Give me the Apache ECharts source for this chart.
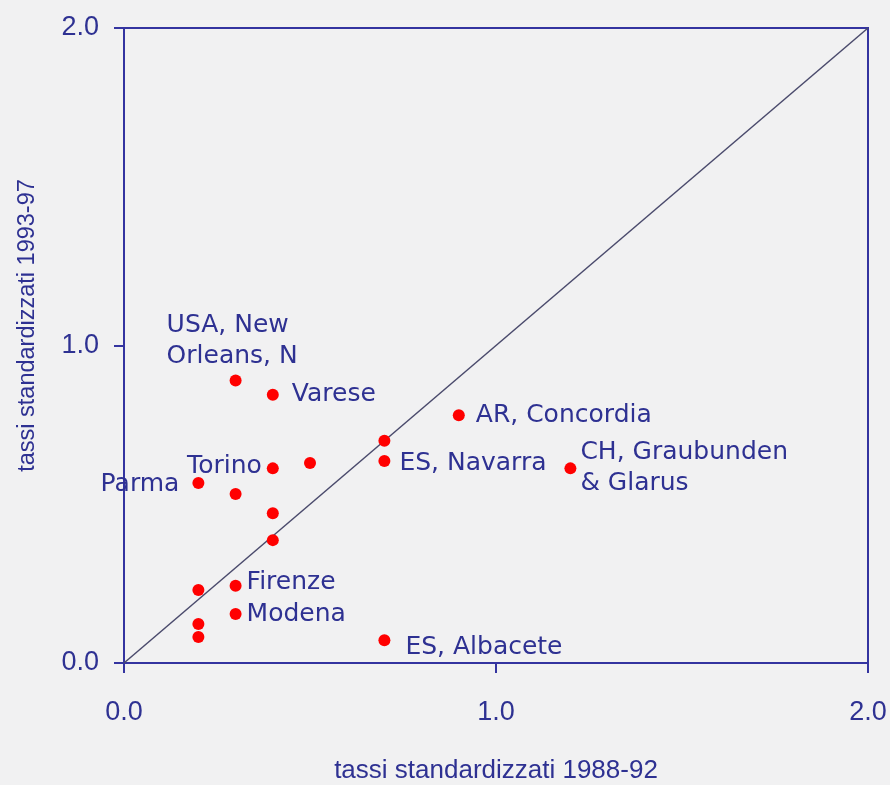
<!DOCTYPE html>
<html>
<head>
<meta charset="utf-8" />
<title></title>
<script type="text/javascript" src="https://cdn.jsdelivr.net/npm/echarts@6/dist/echarts.min.js"></script>
<style>
	html, body { margin: 0; padding: 0; width: 100%; height: 100%; background: #f1f1f2; }
</style>
</head>
<body>
<div id="container" style="width: 890px;height: 785px"></div>
<script>
	// tassi standardizzati: 1988-92 (x) vs 1993-97 (y)
	var names = ['USA, New\nOrleans, N', 'Varese', 'AR, Concordia', '', 'ES, Navarra', '', 'Torino',
		'CH, Graubunden\n& Glarus', 'Parma', '', '', '', '', 'Firenze', 'Modena', '', '', 'ES, Albacete'];
	var x8892 = [0.3, 0.4, 0.9, 0.7, 0.7, 0.5, 0.4, 1.2, 0.2, 0.3, 0.4, 0.4, 0.2, 0.3, 0.3, 0.2, 0.2, 0.7];
	var y9397 = [0.89, 0.845, 0.78, 0.70, 0.636, 0.63, 0.613, 0.613, 0.567, 0.532, 0.472, 0.387, 0.23, 0.243, 0.154, 0.123, 0.082, 0.072];
	var diagonal = [[0, 0], [2, 2]];

	var blue = '#2e3192';
	var axisFont = "'Liberation Sans', Arial, sans-serif";

	// label placement per name
	var labelPos = {
		'USA, New\nOrleans, N': { position: 'top', align: 'left', offset: [-69, 0], distance: 2 },
		'Varese': { position: 'right', distance: 13 },
		'AR, Concordia': { position: 'right', distance: 11 },
		'ES, Navarra': { position: 'right', distance: 9, offset: [0, 2] },
		'Torino': { position: 'left', distance: 5, offset: [0, -2] },
		'CH, Graubunden\n& Glarus': { position: 'right', distance: 4 },
		'Parma': { position: 'left', distance: 13, offset: [0, 2] },
		'Firenze': { position: 'right', distance: 5, offset: [0, -3] },
		'Modena': { position: 'right', distance: 5 },
		'ES, Albacete': { position: 'right', distance: 15, offset: [0, 7] }
	};

	var points = x8892.map(function(x, i) {
		var item = { value: [x, y9397[i]], name: names[i] };
		if (names[i]) {
			var p = labelPos[names[i]];
			item.label = {
				show: true,
				formatter: '{b}',
				position: p.position,
				distance: p.distance,
				offset: p.offset || [0, 0],
				align: p.align
			};
		}
		return item;
	});

	var myChart = echarts.init(document.getElementById('container'));
	var option = {
		backgroundColor: '#f1f1f2',
		animation: false,
		grid: {
			left: 124, right: 22, top: 28, bottom: 122,
			outerBoundsMode: 'none',
			containLabel: false,
			show: true, borderColor: '#3434a0', borderWidth: 2, backgroundColor: 'transparent'
		},
		xAxis: {
			type: 'value', min: 0, max: 2, interval: 1,
			name: 'tassi standardizzati 1988-92',
			nameLocation: 'middle', nameGap: 95,
			nameTextStyle: { color: blue, fontFamily: axisFont, fontSize: 26 },
			axisLine: { onZero: false, lineStyle: { color: '#3434a0', width: 2 } },
			axisTick: { show: true, inside: false, length: 10, lineStyle: { color: '#3434a0', width: 2 } },
			axisLabel: {
				color: blue, fontFamily: axisFont, fontSize: 27, margin: 36,
				formatter: function(v) { return v.toFixed(1); }
			},
			splitLine: { show: false }
		},
		yAxis: {
			type: 'value', min: 0, max: 2, interval: 1,
			name: 'tassi standardizzati 1993-97',
			nameLocation: 'middle', nameGap: 84,
			nameTextStyle: { color: blue, fontFamily: axisFont, fontSize: 23.5, padding: [0, 0, 0, 40] },
			axisLine: { onZero: false, lineStyle: { color: '#3434a0', width: 2 } },
			axisTick: { show: true, inside: false, length: 10, lineStyle: { color: '#3434a0', width: 2 } },
			axisLabel: {
				color: blue, fontFamily: axisFont, fontSize: 27, margin: 25,
				formatter: function(v) { return v.toFixed(1); }
			},
			splitLine: { show: false }
		},
		series: [{
			type: 'line',
			data: diagonal,
			symbol: 'none',
			silent: true,
			z: 1,
			lineStyle: { color: '#4a4a6c', width: 1.5 }
		}, {
			type: 'scatter',
			data: points,
			symbolSize: 12,
			z: 3,
			itemStyle: { color: '#ff0000', opacity: 1 },
			label: {
				color: blue,
				fontFamily: "'DejaVu Sans', Verdana, sans-serif",
				fontSize: 25,
				lineHeight: 31
			}
		}]
	};
	myChart.setOption(option);
</script>
</body>
</html>
